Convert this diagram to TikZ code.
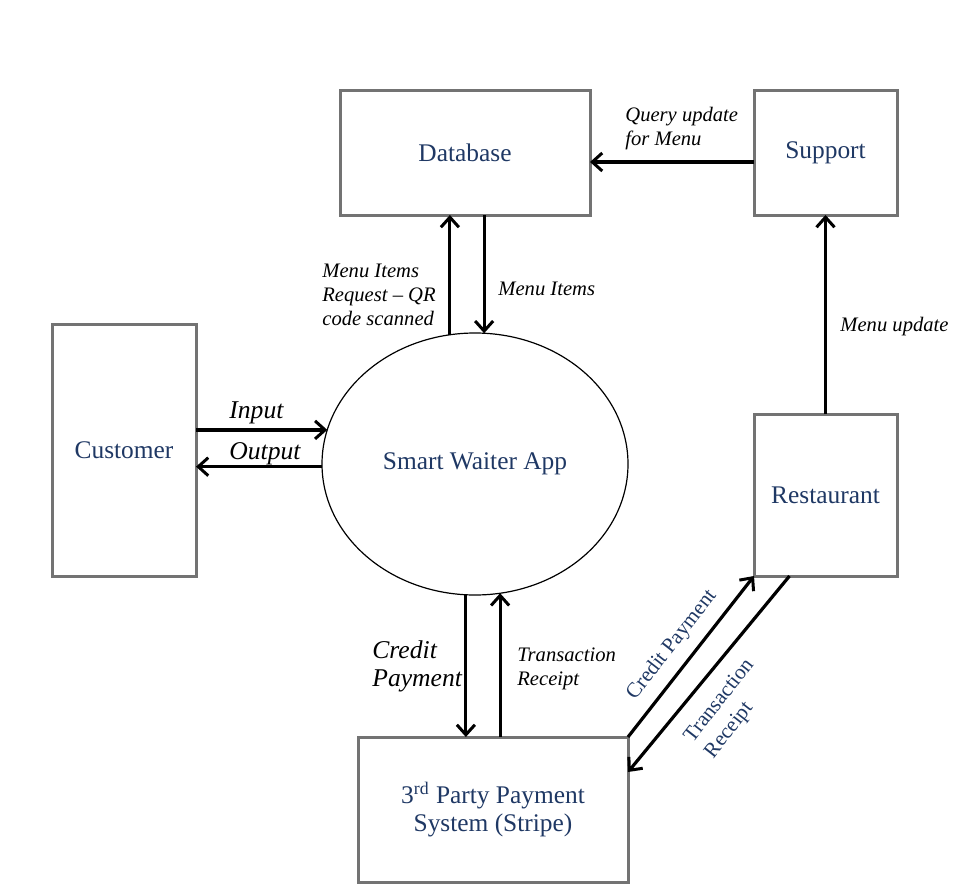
\documentclass[tikz,border=0pt]{standalone}
\usepackage{fontspec}
\setmainfont{Liberation Serif}
\usetikzlibrary{shapes.geometric,arrows.meta}
\definecolor{navy}{RGB}{31,56,100}
\definecolor{boxgray}{RGB}{115,115,115}
\begin{document}
\begin{tikzpicture}[x=0.5pt,y=-0.5pt,
  box/.style={draw=boxgray,line width=1.5pt,rectangle,inner sep=0pt,outer sep=0pt,
    text=navy,font=\fontsize{12.7}{14}\selectfont,align=center},
  proc/.style={draw=black,line width=0.6pt,ellipse,inner sep=0pt,outer sep=0pt,
    text=navy,font=\fontsize{12.7}{14}\selectfont},
  arr/.style={line width=1.6pt,-{Straight Barb[length=5pt,width=9pt,line width=1.5pt]}},
  lab/.style={inner sep=0pt,anchor=west,align=left,font=\fontsize{10.3}{12}\selectfont\itshape},
  biglab/.style={inner sep=0pt,anchor=west,align=left,font=\fontsize{12.8}{14}\selectfont\itshape},
  rotlab/.style={inner sep=0pt,align=left,rotate=52,text=navy,font=\fontsize{10.6}{13}\selectfont}
]
\useasboundingbox (0,0) rectangle (974,894);
\node[box,minimum width=125pt,minimum height=62.5pt] (db) at (465,152.5) {Database};
\node[box,minimum width=71.5pt,minimum height=62.5pt] (sup) at (825.5,152.5) {Support};
\node[box,minimum width=72pt,minimum height=126pt] (cust) at (124,450) {Customer};
\node[box,minimum width=71.5pt,minimum height=81pt] (rest) at (825.5,495) {Restaurant};
\node[box,minimum width=135pt,minimum height=72.5pt] (stripe) at (493,809.5) {3\textsuperscript{rd} Party Payment\\System (Stripe)};
\node[proc,minimum width=153pt,minimum height=131pt] (app) at (475,464) {Smart Waiter App};

% connectors
\draw[arr] (sup.west |- 0,162) coordinate (qs) -- (db.east |- qs);
\draw[arr] (rest.north) -- (sup.south);
\draw[arr] (app.101.4) -- (app.101.4 |- db.south);
\draw[arr] (app.86.1 |- db.south) -- (app.86.1);
\draw[arr] (cust.east |- app.167.8) -- (app.167.8);
\draw[arr] (app.181) -- (cust.east |- app.181);
\draw[arr] (app.266.1) -- (app.266.1 |- stripe.north);
\draw[arr] (app.281.8 |- stripe.north) -- (app.281.8);
\draw[arr] (stripe.north east) -- (rest.south west);
\draw[arr] ([xshift=-18pt]rest.south) -- ([yshift=-17.5pt]stripe.north east);

% labels
\node[lab] (l1) at (322,295) {Menu Items\\Request -- QR\\code scanned};
\node[lab] (l2) at (498,289) {Menu Items};
\node[lab] (l3) at (625,129) {Query update\\for Menu};
\node[lab] (l4) at (840,327) {Menu update};
\node[biglab] (l5) at (229,413) {Input};
\node[biglab] (l6) at (229,454) {Output};
\node[biglab] (l7) at (372,666) {Credit\\Payment};
\node[lab] (l8) at (517,669) {Transaction\\Receipt};
\node[rotlab] (l9) at (672,645) {Credit Payment};
\node[rotlab] (l10) at (730,709) {Transaction\\Receipt};
\end{tikzpicture}
\end{document}
